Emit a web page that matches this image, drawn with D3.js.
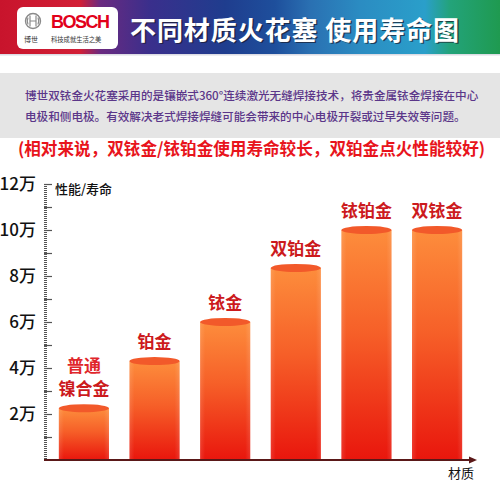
<!DOCTYPE html>
<html>
<head>
<meta charset="utf-8">
<script src="https://cdn.jsdelivr.net/npm/d3@7"></script>
<style>
  html, body { margin: 0; padding: 0; background: #fff; }
  svg { display: block; font-family: "Noto Sans CJK SC", "Noto Sans", sans-serif; }
</style>
</head>
<body>
<div id="chart"></div>
<script>
// chart data (values in 万)
const categories = ['普通镍合金', '铂金', '铱金', '双铂金', '铱铂金', '双铱金'];
const barLabels = [['普通', '镍合金'], ['铂金'], ['铱金'], ['双铂金'], ['铱铂金'], ['双铱金']];
const lifeValues = [2.25, 4.3, 6, 8.35, 10, 10];
const tickValues = [2, 4, 6, 8, 10, 12];
const tickLabels = ['2万', '4万', '6万', '8万', '10万', '12万'];

const titleText = '不同材质火花塞 使用寿命图';
const introLines = [
    '博世双铱金火花塞采用的是镶嵌式360°连续激光无缝焊接技术，将贵金属铱金焊接在中心',
    '电极和侧电极。有效解决老式焊接焊缝可能会带来的中心电极开裂或过早失效等问题。'
];
const noteText = '(相对来说，双铱金/铱铂金使用寿命较长，双铂金点火性能较好)';

const width = 500, height = 500;

const svg = d3.select('#chart')
    .append('svg')
    .attr('width', width)
    .attr('height', height);

const defs = svg.append('defs');

// Header stripes gradient
const hg = defs.append('linearGradient').attr('id', 'headerGrad')
    .attr('x1', 0).attr('x2', 1).attr('y1', 0).attr('y2', 0);
[
    [0, '#c8142c'], [0.16, '#d21f36'], [0.2, '#6a2a80'], [0.3, '#3a2f8c'],
    [0.45, '#1f3d8e'], [0.55, '#1e4f9c'], [0.62, '#2a70b2'], [0.72, '#2b8cc2'],
    [0.85, '#2a9fca'], [0.9, '#23a37a'], [1, '#1f9a50']
].forEach(([o, c]) => hg.append('stop').attr('offset', o).attr('stop-color', c));

// Bar gradient
const bg = defs.append('linearGradient').attr('id', 'barGrad')
    .attr('x1', 0).attr('x2', 0).attr('y1', 0).attr('y2', 1);
bg.append('stop').attr('offset', 0).attr('stop-color', '#fd8d3c');
bg.append('stop').attr('offset', 0.45).attr('stop-color', '#f65f28');
bg.append('stop').attr('offset', 1).attr('stop-color', '#e9160d');

// side shading for cylinders
const sg = defs.append('linearGradient').attr('id', 'sideGrad')
    .attr('x1', 0).attr('x2', 1).attr('y1', 0).attr('y2', 0);
sg.append('stop').attr('offset', 0).attr('stop-color', '#fff').attr('stop-opacity', 0.12);
sg.append('stop').attr('offset', 0.1).attr('stop-color', '#fff').attr('stop-opacity', 0);
sg.append('stop').attr('offset', 0.9).attr('stop-color', '#fff').attr('stop-opacity', 0);
sg.append('stop').attr('offset', 1).attr('stop-color', '#fff').attr('stop-opacity', 0.12);

// Header
svg.append('rect')
    .attr('x', 0).attr('y', 0)
    .attr('width', width).attr('height', 54)
    .attr('fill', 'url(#headerGrad)');

svg.append('rect')
    .attr('x', 0).attr('y', 54)
    .attr('width', width).attr('height', 1.5)
    .attr('fill', '#dcdce4');

// Logo box
const logo = svg.append('g');
logo.append('rect')
    .attr('x', 17).attr('y', 7)
    .attr('width', 101).attr('height', 42)
    .attr('rx', 6)
    .attr('fill', '#fff');
logo.append('circle')
    .attr('cx', 33).attr('cy', 21).attr('r', 7.5)
    .attr('fill', 'none').attr('stroke', '#8a8a8a').attr('stroke-width', 1.4);
logo.append('path')
    .attr('d', 'M30,15.5 L30,26.5 M36,15.5 L36,26.5 M30,21 L36,21 M28,17.5 Q26.5,21 28,24.5 M38,17.5 Q39.5,21 38,24.5')
    .attr('fill', 'none').attr('stroke', '#8a8a8a').attr('stroke-width', 1.2);
logo.append('text')
    .attr('x', 51).attr('y', 28)
    .attr('fill', '#e2001a')
    .style('font-family', '"Liberation Sans", Arial, sans-serif')
    .style('font-size', '18px')
    .style('font-weight', 'bold')
    .attr('textLength', 59)
    .text('BOSCH');
logo.append('text')
    .attr('x', 24).attr('y', 42)
    .attr('fill', '#333')
    .style('font-size', '7px')
    .text('博世');
logo.append('text')
    .attr('x', 51).attr('y', 42)
    .attr('fill', '#333')
    .style('font-size', '6.3px')
    .text('科技成就生活之美');

// Title with shadow
svg.append('text')
    .attr('x', 131.5).attr('y', 41)
    .attr('fill', '#1a1a2a').attr('fill-opacity', 0.7)
    .style('font-size', '26px').style('font-weight', 'bold')
    .attr('textLength', 329)
    .text(titleText);
svg.append('text')
    .attr('x', 130).attr('y', 39.5)
    .attr('fill', '#fff')
    .style('font-size', '26px').style('font-weight', 'bold')
    .attr('textLength', 329)
    .text(titleText);

// Intro box
svg.append('rect')
    .attr('x', 0).attr('y', 73)
    .attr('width', width).attr('height', 65)
    .attr('fill', '#e5e5e5');

svg.selectAll('.intro')
    .data(introLines)
    .enter().append('text')
    .attr('class', 'intro')
    .attr('x', 25)
    .attr('y', (d, i) => 99.5 + i * 21.5)
    .attr('fill', '#5b3689')
    .style('font-size', '11.6px')
    .style('font-weight', '500')
    .text(d => d);

// Red note
svg.append('text')
    .attr('x', 18).attr('y', 155)
    .attr('fill', '#e8141c')
    .style('font-size', '17px').style('font-weight', 'bold')
    .attr('textLength', 467)
    .attr('lengthAdjust', 'spacingAndGlyphs')
    .text(noteText);

// Chart
const x0 = 44, baseY = 460;
const y = d3.scaleLinear().domain([0, 12]).range([baseY, 184]);
const x = d3.scaleBand()
    .domain(categories)
    .range([x0, 477])
    .paddingInner(0.29)
    .paddingOuter(0.21);

// ruler: dense minor ticks
svg.append('line')
    .attr('x1', x0 + 1.5).attr('x2', x0 + 1.5)
    .attr('y1', y(12)).attr('y2', baseY)
    .attr('stroke', '#555')
    .attr('stroke-width', 3)
    .attr('stroke-dasharray', '1,1');

// tick marks every 1万
const tickAxis = d3.axisLeft(y)
    .tickValues(d3.range(1, 13))
    .tickSizeInner(-8)
    .tickSizeOuter(0)
    .tickFormat('');
const ta = svg.append('g')
    .attr('transform', `translate(${x0},0)`)
    .call(tickAxis);
ta.select('.domain').remove();
ta.selectAll('.tick line').attr('stroke', '#555').attr('stroke-width', 1.2);

// tick labels
const labelAxis = d3.axisLeft(y)
    .tickValues(tickValues)
    .tickSize(0)
    .tickPadding(8)
    .tickFormat((d, i) => tickLabels[i]);
const la = svg.append('g')
    .attr('transform', `translate(${x0},0)`)
    .call(labelAxis);
la.select('.domain').remove();
la.selectAll('.tick text')
    .attr('fill', '#111')
    .style('font-family', '"Noto Sans CJK SC", sans-serif')
    .style('font-size', '17px')
    .style('font-weight', '500');

svg.append('text')
    .attr('x', 55).attr('y', 194)
    .attr('fill', '#111')
    .style('font-size', '13px').style('font-weight', '500')
    .text('性能/寿命');

// Bars (cylinders)
const bars = svg.append('g')
    .selectAll('g')
    .data(categories)
    .enter().append('g');

bars.append('rect')
    .attr('x', d => x(d))
    .attr('y', (d, i) => y(lifeValues[i]))
    .attr('width', x.bandwidth())
    .attr('height', (d, i) => baseY - y(lifeValues[i]))
    .attr('fill', 'url(#barGrad)');

bars.append('rect')
    .attr('x', d => x(d))
    .attr('y', (d, i) => y(lifeValues[i]))
    .attr('width', x.bandwidth())
    .attr('height', (d, i) => baseY - y(lifeValues[i]))
    .attr('fill', 'url(#sideGrad)');

bars.append('ellipse')
    .attr('cx', d => x(d) + x.bandwidth() / 2)
    .attr('cy', (d, i) => y(lifeValues[i]))
    .attr('rx', x.bandwidth() / 2)
    .attr('ry', 4)
    .attr('fill', '#f2592a');

// Bar labels
bars.each(function(d, i) {
    const lines = barLabels[i];
    const top = y(lifeValues[i]);
    const cx = x(d) + x.bandwidth() / 2;
    lines.forEach((line, j) => {
        d3.select(this).append('text')
            .attr('x', cx)
            .attr('y', top - 13 - (lines.length - 1 - j) * 23)
            .attr('text-anchor', 'middle')
            .attr('fill', lines.length > 1 && j === 0 ? '#e0262b' : '#cc1a1d')
            .style('font-size', '17px')
            .style('font-weight', 'bold')
            .text(line);
    });
});

// X axis line with arrow
svg.append('line')
    .attr('x1', x0).attr('x2', 470)
    .attr('y1', baseY).attr('y2', baseY)
    .attr('stroke', '#5a1818')
    .attr('stroke-width', 2);
svg.append('path')
    .attr('d', `M469,${baseY - 3.5} L477,${baseY} L469,${baseY + 3.5} Z`)
    .attr('fill', '#5a1818');

svg.append('text')
    .attr('x', 448).attr('y', 478)
    .attr('fill', '#111')
    .style('font-size', '13px')
    .text('材质');
</script>
</body>
</html>
